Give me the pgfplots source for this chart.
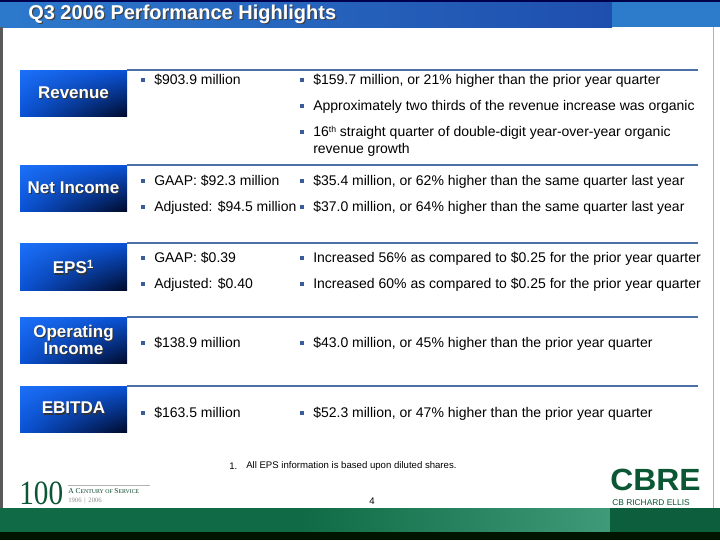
\documentclass[border=0pt]{standalone}
\usepackage{pgfplots}
\pgfplotsset{compat=1.18}
\usetikzlibrary{shadings}
\usepackage{fontspec}
\setmainfont{Liberation Sans}
\newfontfamily\serifrm{Liberation Serif}

\definecolor{barL}{HTML}{2C79CC}
\definecolor{barR}{HTML}{1F4FAE}
\definecolor{barE}{HTML}{2C7CCB}
\definecolor{boxA}{HTML}{1C70F8}
\definecolor{boxB}{HTML}{0A52D6}
\definecolor{boxC}{HTML}{000A2A}
\definecolor{rulec}{HTML}{4C6FA6}
\definecolor{bulc}{HTML}{3A5C9A}
\definecolor{grn}{HTML}{0F6A45}
\definecolor{grnL}{HTML}{3E9A78}
\definecolor{grnD}{HTML}{0C5E3C}
\definecolor{logo}{HTML}{0B5634}

\newcommand\fs{\fontsize{10.5}{12.5}\selectfont}
\newcommand\lab{\fontsize{12.75}{14.5}\selectfont\bfseries}

% one blue label box with shadowed white text
\newcommand\labelbox[4]{%
  \shade[upper left=boxA, upper right=boxB, lower left=boxB, lower right=boxC]
    (axis cs:20,#1) rectangle (axis cs:127,#2);
  \node[align=center, font=\lab, text=black!80, inner sep=0pt]
    at (axis cs:74.5,#3+1.2) {#4};
  \node[align=center, font=\lab, text=white, inner sep=0pt]
    at (axis cs:73.5,#3) {#4};
}

\begin{document}
\begin{tikzpicture}
\begin{axis}[
  width=540pt, height=405pt, scale only axis,
  xmin=0, xmax=720, ymin=0, ymax=540, y dir=reverse,
  hide axis, clip=false,
  every node/.append style={text height=1.45ex, text depth=0.3ex},
]
% page
\fill[white] (axis cs:0,0) rectangle (axis cs:720,540);

% title bar
\shade[left color=barL, right color=barR] (axis cs:0,0) rectangle (axis cs:612,27);
\fill[barE] (axis cs:612,0) rectangle (axis cs:720,27);
\fill[black!70!blue] (axis cs:0,0) rectangle (axis cs:720,1.5);
\node[anchor=west, font=\fontsize{15}{17}\selectfont\bfseries, text=black!75, inner sep=0pt]
  at (axis cs:29.3,15.3) {Q3 2006 Performance Highlights};
\node[anchor=west, font=\fontsize{15}{17}\selectfont\bfseries, text=white, inner sep=0pt]
  at (axis cs:28,14) {Q3 2006 Performance Highlights};

% frame
\fill[black!65] (axis cs:0,27) rectangle (axis cs:2.5,508);
\fill[black!30] (axis cs:712.5,27) rectangle (axis cs:713.5,508);

% section rules
\addplot[rulec, line width=1.6pt] coordinates {(127,70)(698,70)};
\addplot[rulec, line width=1.6pt] coordinates {(127,165)(698,165)};
\addplot[rulec, line width=1.6pt] coordinates {(127,243)(698,243)};
\addplot[rulec, line width=1.6pt] coordinates {(127,317)(698,317)};
\addplot[rulec, line width=1.6pt] coordinates {(127,386)(698,386)};

% label boxes
\labelbox{70}{116}{93}{Revenue}
\labelbox{165}{211}{188}{Net Income}
\labelbox{243}{290}{267}{EPS\textsuperscript{1}}
\labelbox{317}{363}{340}{Operating\\[-1.5pt]Income}
\labelbox{386}{432}{408}{EBITDA}

% bullets
\addplot[only marks, mark=square*, mark size=1.2pt, color=bulc] coordinates {
  (143,80) (302,80) (302,106) (302,132)
  (143,181) (302,181) (143,207) (302,207)
  (143,258) (302,258) (143,284) (302,284)
  (143,343) (302,343)
  (143,413) (302,413)
};

% first column
\begin{scope}[every node/.style={anchor=west, font=\fs, inner sep=0pt, text height=1.45ex, text depth=0.3ex}]
\node at (axis cs:154,80) {\$903.9 million};
\node at (axis cs:154,181) {GAAP: \$92.3 million};
\node at (axis cs:154,207) {Adjusted: \$94.5 million};
\node at (axis cs:154,258) {GAAP: \$0.39};
\node at (axis cs:154,284) {Adjusted: \$0.40};
\node at (axis cs:154,343) {\$138.9 million};
\node at (axis cs:154,413) {\$163.5 million};
% second column
\node at (axis cs:313,80) {\$159.7 million, or 21\% higher than the prior year quarter};
\node at (axis cs:313,106) {Approximately two thirds of the revenue increase was organic};
\node at (axis cs:313,132) {16{\fontsize{6.5}{7}\selectfont\raisebox{0.7ex}{th}} straight quarter of double-digit year-over-year organic};
\node at (axis cs:313,149) {revenue growth};
\node at (axis cs:313,181) {\$35.4 million, or 62\% higher than the same quarter last year};
\node at (axis cs:313,207) {\$37.0 million, or 64\% higher than the same quarter last year};
\node at (axis cs:313,258) {Increased 56\% as compared to \$0.25 for the prior year quarter};
\node at (axis cs:313,284) {Increased 60\% as compared to \$0.25 for the prior year quarter};
\node at (axis cs:313,343) {\$43.0 million, or 45\% higher than the prior year quarter};
\node at (axis cs:313,413) {\$52.3 million, or 47\% higher than the prior year quarter};
\end{scope}

% footnote and page number
\node[anchor=west, font=\fontsize{7.2}{8.5}\selectfont, inner sep=0pt] at (axis cs:229,466) {1.};
\node[anchor=west, font=\fontsize{7.2}{8.5}\selectfont, inner sep=0pt] at (axis cs:246,466) {All EPS information is based upon diluted shares.};
\node[font=\fontsize{7.2}{8.5}\selectfont, inner sep=0pt] at (axis cs:372,501) {4};

% centenary logo
\node[anchor=base west, font=\serifrm\fontsize{25.5}{27}\selectfont, text=logo, inner sep=0pt,
  text height=, text depth=] at (axis cs:19,504) {\scalebox{0.86}[1]{100}};
\fill[black!30] (axis cs:68,485) rectangle (axis cs:150,485.6);
\node[anchor=base west, font=\serifrm\fontsize{5.6}{6}\selectfont, text=logo!80!black, inner sep=0pt,
  text height=, text depth=] at (axis cs:68,493) {A C\fontsize{4.4}{5}\selectfont ENTURY OF \fontsize{5.6}{6}\selectfont S\fontsize{4.4}{5}\selectfont ERVICE};
\node[anchor=base west, font=\serifrm\fontsize{5}{6}\selectfont, text=black!45, inner sep=0pt,
  text height=, text depth=] at (axis cs:68,502) {1906 \,|\, 2006};

% CBRE logo
\node[anchor=base west, font=\fontsize{23}{25}\selectfont\bfseries, text=logo, inner sep=0pt,
  text height=, text depth=] at (axis cs:610,490.5) {\scalebox{1.04}[1]{CBRE}};
\node[anchor=base west, font=\fontsize{6.3}{7}\selectfont, text=logo, inner sep=0pt,
  text height=, text depth=] at (axis cs:612,505) {CB RICHARD ELLIS};

% bottom bands
\fill[grn] (axis cs:0,508) rectangle (axis cs:300,532);
\shade[left color=grn, right color=grnL] (axis cs:300,508) rectangle (axis cs:610,532);
\fill[grnD] (axis cs:610,508) rectangle (axis cs:720,532);
\fill[black!92!green] (axis cs:0,532) rectangle (axis cs:720,540);
\end{axis}
\end{tikzpicture}
\end{document}
